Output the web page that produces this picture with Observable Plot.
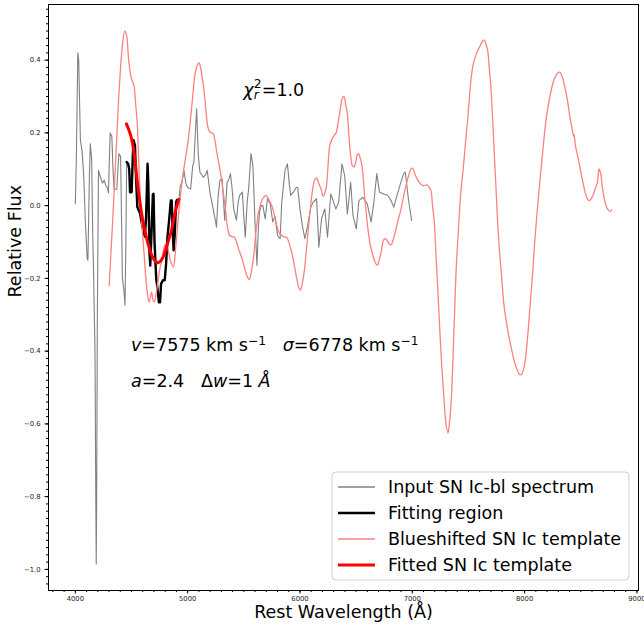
<!DOCTYPE html>
<html><head><meta charset="utf-8">
<script src="https://cdn.jsdelivr.net/npm/d3@7"></script>
<script src="https://cdn.jsdelivr.net/npm/@observablehq/plot@0.6"></script>
<style>
body{margin:0;background:#fff;font-family:"DejaVu Sans",sans-serif;}
#wrap{position:relative;width:644px;height:631px;}
svg text.ann{white-space:pre;}
</style></head><body><div id="wrap"></div><script>
// Input SN Ic-bl spectrum
const inputWave = [4000,4010,4022,4030,4045,4060,4075,4090,4105,4112,4125,4133,4145,4155,4162,4175,4182,4186,4190,4196,4206,4222,4242,4257,4271,4285,4295,4305,4310,4325,4335,4345,4369,4383,4389,4403,4412,4419,4432,4442,4450,4457,4470,4480,4487,4501,4510,4517,4531,4540,4552,4575,4596,4619,4630,4643,4650,4660,4667,4675,4690,4696,4705,4720,4732,4744,4754,4763,4780,4796,4808,4820,4835,4850,4858,4866,4875,4885,4897,4905,4922,4935,4950,4967,4985,5000,5027,5045,5055,5080,5095,5109,5125,5139,5160,5174,5185,5198,5227,5240,5257,5270,5286,5307,5320,5330,5351,5365,5381,5395,5410,5434,5450,5463,5487,5500,5513,5530,5543,5564,5581,5600,5617,5630,5640,5655,5670,5690,5711,5735,5758,5779,5800,5823,5838,5867,5888,5905,5917,5941,5965,5980,6000,6021,6044,6068,6097,6118,6148,6168,6192,6221,6245,6274,6295,6319,6345,6374,6385,6398,6422,6440,6451,6472,6501,6525,6560,6599,6634,6658,6684,6708,6746,6782,6811,6835,6864,6894,6923,6938,6965,6994];
const inputFlux = [0.005,0.15,0.42,0.40,0.18,0.15,0.08,-0.05,-0.145,-0.15,0.08,0.17,0.13,-0.08,-0.18,-0.4,-0.8,-0.985,-0.8,-0.3,0.097,0.08,0.062,0.07,0.055,0.05,0.035,0.15,0.2,0.19,0.1,0.045,0.045,0.12,0.143,0.135,-0.05,-0.2,-0.23,-0.274,-0.1,0.12,0.115,0.1,0.037,0.037,0.12,0.18,0.165,0.08,-0.004,-0.02,-0.055,-0.085,-0.03,0.115,0.06,-0.13,-0.165,-0.1,0.03,0.033,-0.1,-0.2,-0.23,-0.266,-0.266,-0.215,-0.205,-0.205,-0.16,-0.087,-0.04,0.014,0.014,-0.06,-0.123,-0.08,0.01,0.016,0.017,0.055,0.065,0.097,0.06,0.05,0.046,0.11,0.118,0.266,0.138,0.092,0.085,0.078,0.085,0.097,0.07,0.037,-0.009,-0.03,-0.059,0.02,0.069,0.074,0.01,-0.041,0.064,0.07,0.088,0.05,-0.009,-0.04,0.01,0.028,0.037,-0.03,-0.087,0.01,0.046,0.143,0.11,-0.05,-0.164,-0.06,-0.018,0.0,0.0,-0.036,0.019,0.005,-0.045,-0.03,-0.082,-0.091,0.01,0.097,0.115,0.06,0.028,0.037,0.05,0.05,-0.009,-0.055,-0.091,-0.055,-0.004,0.01,0.019,-0.114,-0.036,-0.009,-0.087,0.032,0.014,-0.009,0.01,0.115,0.1,0.083,-0.023,0.03,0.064,-0.027,-0.064,0.014,0.023,0.005,-0.045,0.01,0.088,0.037,0.032,0.028,0.014,-0.004,0.028,0.06,0.088,0.092,0.019,-0.041];

// Fitting region
const fitWave = [4457,4470,4480,4487,4501,4510,4517,4531,4540,4552,4575,4596,4619,4630,4643,4650,4660,4667,4675,4690,4696,4705,4720,4732,4744,4754,4763,4780,4796,4808,4820,4835,4850,4858,4866,4875,4885,4897,4905,4922];
const fitFlux = [0.12,0.115,0.1,0.037,0.037,0.12,0.18,0.165,0.08,-0.004,-0.02,-0.055,-0.085,-0.03,0.115,0.06,-0.13,-0.165,-0.1,0.03,0.033,-0.1,-0.2,-0.23,-0.266,-0.266,-0.215,-0.205,-0.205,-0.16,-0.087,-0.04,0.014,0.014,-0.06,-0.123,-0.08,0.01,0.016,0.017];

// Blueshifted SN Ic template
const tmplWave = [4301,4330,4360,4389,4419,4440,4455,4475,4493,4510,4522,4537,4552,4566,4581,4611,4640,4658,4678,4692,4702,4718,4732,4755,4776,4795,4814,4832,4850,4873,4894,4915,4938,4960,4982,5005,5027,5045,5065,5085,5100,5115,5130,5144,5160,5175,5189,5210,5227,5245,5260,5292,5315,5336,5355,5374,5395,5416,5435,5454,5484,5513,5535,5549,5565,5581,5597,5611,5630,5646,5670,5699,5725,5749,5775,5794,5815,5838,5860,5882,5905,5926,5950,5971,5990,6003,6020,6040,6058,6074,6092,6109,6130,6148,6168,6186,6206,6222,6236,6250,6265,6280,6295,6310,6324,6340,6354,6372,6385,6395,6408,6422,6436,6451,6466,6481,6500,6510,6522,6537,6552,6565,6575,6590,6605,6627,6649,6668,6687,6705,6723,6738,6752,6767,6782,6797,6811,6833,6855,6878,6900,6922,6944,6965,6988,7000,7033,7060,7095,7130,7150,7166,7180,7195,7210,7226,7256,7285,7300,7318,7330,7345,7360,7374,7390,7412,7430,7452,7470,7492,7522,7540,7561,7580,7605,7625,7640,7655,7671,7685,7700,7715,7730,7745,7759,7778,7798,7815,7836,7860,7886,7910,7931,7950,7967,7982,7996,8015,8034,8055,8073,8090,8110,8128,8145,8165,8183,8213,8251,8270,8287,8305,8316,8330,8345,8365,8382,8400,8420,8430,8435,8440,8442,8450,8481,8516,8547,8565,8577,8595,8613,8632,8648,8655,8663,8670,8678,8692,8707,8720,8737,8760,8775];
const tmplFlux = [-0.22,-0.055,0.129,0.312,0.44,0.48,0.47,0.40,0.358,0.34,0.33,0.28,0.22,0.11,0.0,-0.128,-0.238,-0.265,-0.238,-0.26,-0.265,-0.245,-0.215,-0.17,-0.142,-0.11,-0.105,-0.13,-0.155,-0.169,-0.114,-0.04,0.035,0.09,0.133,0.18,0.243,0.30,0.36,0.385,0.393,0.38,0.35,0.321,0.27,0.225,0.207,0.2,0.198,0.175,0.145,0.092,0.04,-0.009,-0.06,-0.082,-0.085,-0.087,-0.1,-0.119,-0.146,-0.178,-0.198,-0.203,-0.185,-0.156,-0.11,-0.064,-0.02,0.0,0.02,0.028,0.015,0.0,-0.03,-0.055,-0.075,-0.082,-0.086,-0.087,-0.105,-0.128,-0.165,-0.2,-0.225,-0.233,-0.215,-0.175,-0.12,-0.064,-0.01,0.037,0.07,0.076,0.06,0.047,0.026,0.035,0.055,0.11,0.165,0.18,0.188,0.195,0.202,0.23,0.256,0.29,0.3,0.298,0.275,0.252,0.19,0.138,0.11,0.106,0.125,0.14,0.143,0.13,0.11,0.07,0.028,-0.02,-0.064,-0.11,-0.137,-0.155,-0.164,-0.15,-0.128,-0.1,-0.091,-0.092,-0.1,-0.106,-0.108,-0.09,-0.064,-0.035,-0.009,0.025,0.055,0.08,0.101,0.103,0.08,0.065,0.055,0.057,0.05,0.042,0.0,-0.041,-0.13,-0.224,-0.407,-0.545,-0.6,-0.625,-0.6,-0.545,-0.44,-0.316,-0.18,-0.059,0.03,0.097,0.16,0.234,0.344,0.385,0.408,0.425,0.44,0.452,0.456,0.445,0.427,0.38,0.326,0.24,0.143,0.05,-0.041,-0.13,-0.206,-0.27,-0.316,-0.36,-0.398,-0.43,-0.449,-0.462,-0.465,-0.458,-0.444,-0.4,-0.334,-0.25,-0.178,-0.1,-0.023,0.04,0.097,0.16,0.216,0.28,0.335,0.352,0.362,0.367,0.366,0.358,0.344,0.315,0.289,0.25,0.216,0.2,0.193,0.19,0.195,0.17,0.124,0.069,0.028,0.016,0.014,0.02,0.032,0.05,0.063,0.085,0.101,0.095,0.088,0.05,0.023,0.005,-0.009,-0.016,-0.012];

// Fitted SN Ic template
const fittedWave = [4455,4480,4500,4525,4550,4575,4600,4635,4670,4705,4737,4770,4800,4830,4855,4880,4900,4922];
const fittedFlux = [0.225,0.205,0.184,0.14,0.07,0.01,-0.04,-0.09,-0.128,-0.15,-0.157,-0.148,-0.125,-0.095,-0.07,-0.03,-0.005,0.017];

// Ticks
const xTicks = [4000,5000,6000,7000,8000,9000];
const yTicks = [-1.0,-0.8,-0.6,-0.4,-0.2,0.0,0.2,0.4];
const xMinor = d3.range(3800, 9001, 100);
const yMinor = d3.range(-52, 28).map(i => i * 0.02);

const legendLabels = ["Input SN Ic-bl spectrum","Fitting region","Blueshifted SN Ic template","Fitted SN Ic template"];
const legendColors = ["#808080","#000000","#ff8080","#ff0000"];
const legendWidths = [1.6,2.4,1.6,3];

const toRows = (xs, ys) => xs.map((x, i) => ({x, y: ys[i]}));
const FS = 17.5;

const chart = Plot.plot({
  width: 644, height: 631,
  marginLeft: 48, marginRight: 6, marginTop: 4, marginBottom: 41,
  style: {fontFamily: "DejaVu Sans", background: "white", color: "black"},
  x: {domain: [3761, 9014]},
  y: {domain: [-1.058, 0.553]},
  marks: [
    Plot.axisX({ticks: xMinor, tickSize: 2, tickFormat: () => "", label: null}),
    Plot.axisX({ticks: xTicks, tickSize: 3.5, tickPadding: 2, fontSize: 6.8, fill: "#222", tickFormat: d => String(d), label: null}),
    Plot.axisY({ticks: yMinor, tickSize: 2, tickFormat: () => "", label: null}),
    Plot.axisY({ticks: yTicks, tickSize: 3.5, tickPadding: 4.5, fontSize: 6.8, fill: "#222", tickFormat: d3.format(".1f"), label: null}),
    Plot.line(toRows(inputWave, inputFlux), {x: "x", y: "y", stroke: "#808080", strokeWidth: 1.1}),
    Plot.line(toRows(fitWave, fitFlux), {x: "x", y: "y", stroke: "#000", strokeWidth: 2.4}),
    Plot.line(toRows(tmplWave, tmplFlux), {x: "x", y: "y", stroke: "#ff8080", strokeWidth: 1.3, curve: "catmull-rom"}),
    Plot.line(toRows(fittedWave, fittedFlux), {x: "x", y: "y", stroke: "#ff0000", strokeWidth: 3, curve: "catmull-rom"}),
    Plot.frame({stroke: "black", strokeWidth: 1}),
    Plot.text(["Rest Wavelength (Å)"], {frameAnchor: "bottom", dy: 27, fontSize: FS, fill: "black"}),
    Plot.text(["Relative Flux"], {frameAnchor: "left", dx: -33, rotate: -90, fontSize: FS, fill: "black"})
  ]
});
document.getElementById("wrap").appendChild(chart);

const sx = chart.scale("x"), sy = chart.scale("y");
const svg = d3.select(chart);
const ann = svg.append("g").attr("font-family", "DejaVu Sans").attr("font-size", FS).attr("fill", "black").attr("text-anchor", "start");

// chi^2_r = 1.0
{
  const t = ann.append("text").attr("class", "ann").attr("x", sx.apply(5500)).attr("y", sy.apply(0.3));
  t.append("tspan").attr("font-style", "italic").text("χ");
  t.append("tspan").attr("font-size", FS * 0.7).attr("dy", -8).text("2");
  t.append("tspan").attr("font-size", FS * 0.7).attr("font-style", "italic").attr("dx", -7.8).attr("dy", 10.5).text("r");
  t.append("tspan").attr("dx", 3).attr("dy", -2.5).text("=1.0");
}
// v and sigma
{
  const t = ann.append("text").attr("class", "ann").attr("x", sx.apply(4500)).attr("y", sy.apply(-0.4)).attr("xml:space", "preserve");
  t.append("tspan").attr("font-style", "italic").text("v");
  t.append("tspan").text("=7575 km s");
  t.append("tspan").attr("font-size", FS * 0.7).attr("dy", -6).text("−1");
  t.append("tspan").attr("dy", 6).text("   ");
  t.append("tspan").attr("font-style", "italic").text("σ");
  t.append("tspan").text("=6778 km s");
  t.append("tspan").attr("font-size", FS * 0.7).attr("dy", -6).text("−1");
}
// a and delta w
{
  const t = ann.append("text").attr("class", "ann").attr("x", sx.apply(4500)).attr("y", sy.apply(-0.5)).attr("xml:space", "preserve");
  t.append("tspan").attr("font-style", "italic").text("a");
  t.append("tspan").text("=2.4   Δ");
  t.append("tspan").attr("font-style", "italic").text("w");
  t.append("tspan").text("=1 ");
  t.append("tspan").attr("font-style", "italic").text("Å");
}

// Legend (inside frame, lower right)
{
  const [fx0, fx1] = sx.range, [fy0, fy1] = sy.range; // fy0 bottom
  const bw = 297, bh = 108;
  const bx = fx1 - 9 - bw, by = fy0 - 10 - bh;
  const g = svg.append("g").attr("text-anchor", "start");
  g.append("rect").attr("x", bx).attr("y", by).attr("width", bw).attr("height", bh)
    .attr("rx", 4).attr("fill", "white").attr("fill-opacity", 0.85).attr("stroke", "#d0d0d0").attr("stroke-width", 1);
  legendLabels.forEach((lab, i) => {
    const cy = by + 15 + i * 26;
    g.append("line").attr("x1", bx + 6).attr("x2", bx + 43).attr("y1", cy).attr("y2", cy)
      .attr("stroke", legendColors[i]).attr("stroke-width", legendWidths[i]);
    g.append("text").attr("x", bx + 56).attr("y", cy).attr("dy", "0.36em")
      .attr("font-family", "DejaVu Sans").attr("font-size", FS).attr("fill", "black").text(lab);
  });
}
</script></body></html>
